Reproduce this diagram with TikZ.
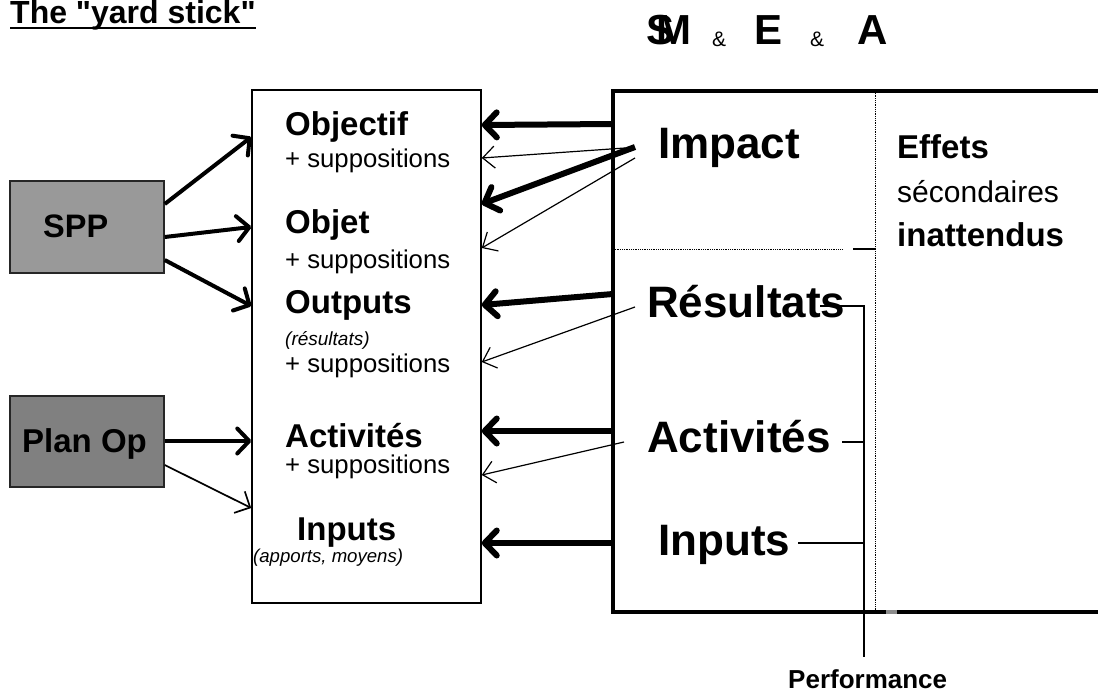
\documentclass[tikz,border=0pt]{standalone}
\usepackage{fontspec}
\setmainfont{Liberation Sans}
\usetikzlibrary{arrows.meta}
\newcommand\fs[1]{\fontsize{#1}{#1}\selectfont}
\definecolor{sppgray}{HTML}{999999}
\definecolor{opgray}{HTML}{808080}
\begin{document}
\begin{tikzpicture}[x=1pt,y=-1pt,
  txt/.style={inner sep=0pt, anchor=base west},
  bigb/.style={txt, font=\bfseries\fs{44}},
  midb/.style={txt, font=\bfseries\fs{33}},
  supp/.style={txt, font=\fs{25.7}},
  srcbox/.style={draw=black!85, line width=1.5pt, inner sep=0pt,
                 minimum width=154pt, minimum height=92pt},
  heavy/.style={line width=6pt, -{Straight Barb[length=12pt,width=25pt,round]}},
  light/.style={line width=1.2pt, -{Straight Barb[length=12pt,width=22pt]}},
  feed/.style={line width=4pt, -{Straight Barb[length=12pt,width=25pt,round]}},
  feedthin/.style={line width=1.7pt, -{Straight Barb[length=12pt,width=24pt]}},
  frame/.style={line width=3.5pt},
  sep/.style={line width=0.8pt, densely dotted},
  brace/.style={line width=1.3pt}]
\useasboundingbox (0,0) rectangle (1098,693);

% title
\node[txt, font=\bfseries\fs{32}] (title) at (10,24) {The \textquotedbl yard stick\textquotedbl};
\draw[line width=2.5pt] ([yshift=-4pt]title.base west) -- ([yshift=-4pt]title.base east);

% S M & E & A heading
\node[txt, font=\bfseries\fs{42}] (hs) at (646,45) {S};
\node[txt, font=\bfseries\fs{42}] (hm) at (656,45) {M};
\node[txt, font=\fs{21}] (amp1) at (712,47) {\&};
\node[txt, font=\bfseries\fs{42}] (he) at (754,45) {E};
\node[txt, font=\fs{21}] (amp2) at (810,47) {\&};
\node[txt, font=\bfseries\fs{42}] (ha) at (857,45) {A};

% source boxes
\node[srcbox, fill=sppgray] (spp) at (87,227) {};
\node[txt, font=\bfseries\fs{32.5}] (spptxt) at (43,237) {SPP};
\node[srcbox, fill=opgray, minimum height=91pt] (plan) at (87,441.5) {};
\node[txt, font=\bfseries\fs{33}] (plantxt) at (22,452) {Plan Op};

% logical framework column
\node[draw, line width=1.5pt, inner sep=0pt, minimum width=229pt,
      minimum height=513pt] (mid) at (366.5,346.5) {};
\node[midb] (objectif) at (285,135) {Objectif};
\node[supp] (s1) at (285,167) {+ suppositions};
\node[midb] (objet) at (285,233) {Objet};
\node[supp] (s2) at (285,268) {+ suppositions};
\node[midb] (outputs) at (285,313) {Outputs};
\node[txt, font=\itshape\fs{19}] (resit) at (285,345) {(résultats)};
\node[supp] (s3) at (285,372) {+ suppositions};
\node[midb] (activ) at (285,447) {Activités};
\node[supp] (s4) at (285,473) {+ suppositions};
\node[midb] (inputs) at (297,540) {Inputs};
\node[txt, font=\itshape\fs{18.6}] (apports) at (253,562) {(apports, moyens)};

% monitoring / evaluation frame (open on the right)
\coordinate (rtl) at (613,91);
\coordinate (rbl) at (613,612);
\coordinate (rtr) at (1098,91);
\coordinate (rbr) at (1098,612);
\draw[frame] (rtr) -- (rtl) -- (rbl) -- (rbr);
\coordinate (dtop) at (875,91);
\coordinate (dbot) at (875,612);
\draw[sep] (dtop) -- (dbot);
\coordinate (hl) at (613,249);
\coordinate (hr) at (843,249);
\draw[sep] (hl) -- (hr);
\coordinate (tickl) at (853,249);
\coordinate (tickr) at (875,249);
\draw[line width=1.5pt] (tickl) -- (tickr);
\coordinate (nubl) at (886,612);
\coordinate (nubr) at (897,612);
\draw[line width=4pt, black!45] (nubl) -- (nubr);

\node[bigb] (impact) at (658,158) {Impact};
\node[bigb] (result) at (647,317) {Résultats};
\node[bigb] (activr) at (647,452) {Activités};
\node[bigb] (inputr) at (658,555) {Inputs};

\node[txt, font=\bfseries\fs{33}] (effets) at (897,158) {Effets};
\node[txt, font=\fs{30}] (second) at (897,202) {sécondaires};
\node[txt, font=\bfseries\fs{33}] (inatt) at (897,246) {inattendus};

% performance bracket
\coordinate (pr) at (820,306);
\coordinate (pa) at (842,442);
\coordinate (pi) at (798,543);
\coordinate (vtop) at (864,306);
\coordinate (vbot) at (864,657);
\draw[brace] (pr) -- (vtop) -- (vbot);
\draw[brace] (pa) -- (vtop |- pa);
\draw[brace] (pi) -- (vtop |- pi);
\node[txt, font=\bfseries\fs{26}] (perf) at (788,688) {Performance};

% arrows from the source boxes
\draw[feed] (spp.east |- 0,204) -- (mid.west |- 0,137);
\draw[feed] (spp.east |- 0,237) -- (mid.west |- 0,227);
\draw[feed] (spp.east |- 0,260) -- (mid.west |- 0,306);
\draw[feed] (plan.east |- 0,441) -- (mid.west |- 0,441);
\draw[feedthin] (plan.east |- 0,465) -- (mid.west |- 0,508);

% arrows from the frame back to the column
\coordinate (ia) at (625,148);
\coordinate (ib) at (635,147);
\coordinate (ic) at (635,158);
\coordinate (ra) at (635,307);
\coordinate (aa) at (624,442);
\draw[heavy] (rtl |- 0,124) -- (mid.east |- 0,125);
\draw[light] (ia) -- (mid.east |- 0,158);
\draw[heavy] (ib) -- (mid.east |- 0,204);
\draw[light] (ic) -- (mid.east |- 0,248);
\draw[heavy] (rtl |- 0,294) -- (mid.east |- 0,305);
\draw[light] (ra) -- (mid.east |- 0,362);
\draw[heavy] (rtl |- 0,431) -- (mid.east |- 0,431);
\draw[light] (aa) -- (mid.east |- 0,475);
\draw[heavy] (rtl |- 0,543) -- (mid.east |- 0,543);
\end{tikzpicture}
\end{document}
